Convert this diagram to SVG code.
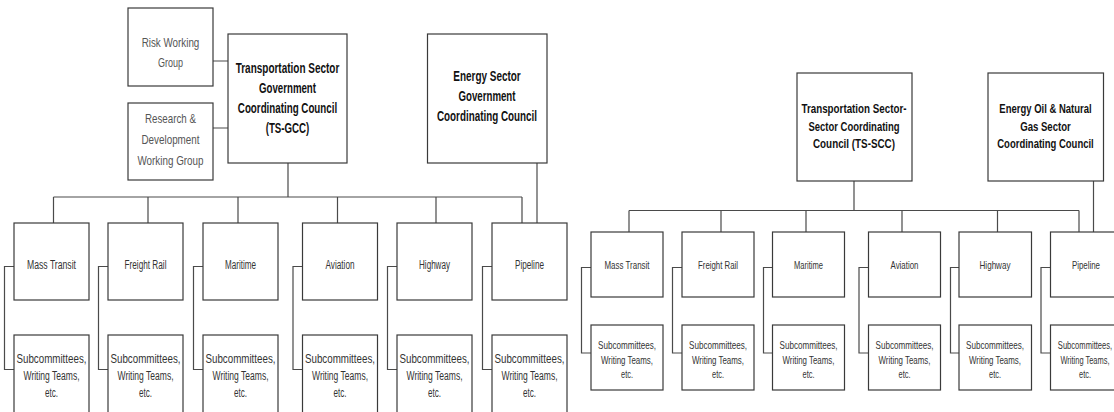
<svg xmlns="http://www.w3.org/2000/svg" width="1114" height="412" viewBox="0 0 1114 412">
<style>
.box{fill:#fff;stroke:#3a3a3a;stroke-width:1.2}
.conn{fill:none;stroke:#4a4a4a;stroke-width:1.2}
text{font-family:"Liberation Sans",Arial,sans-serif;text-anchor:middle;fill:#333}
.b{font-weight:bold;fill:#111}
.lt{font-size:14px}
.rt{font-size:12.5px}
.wg{font-size:13.5px;fill:#555}
.lg{font-size:12.5px}
.rg{font-size:11.5px}
</style>
<rect width="1114" height="412" fill="#fff"/>
<g id="connectors" class="conn">
<path d="M213,61H228M213,128H228"/>
<path d="M288,163V197M53.5,197H522M53.5,197V223M148,197V223M238,197V223M337.5,197V223M436,197V223M522,197V223"/>
<path d="M537,163V223"/>
<path d="M14,266.5H4.5V369.5H14M108,266.5H98.5V369.5H108M203,266.5H193.5V369.5H203M302.5,266.5H293V369.5H302.5M397,266.5H387.5V369.5H397M492,266.5H482.5V369.5H492"/>
<path d="M854,181V210.5M629,210.5H1079M629,210.5V232M721,210.5V232M806,210.5V232M902,210.5V232M997.5,210.5V232M1079,210.5V232"/>
<path d="M1093.5,181V232"/>
<path d="M591,267.5H581.5V353H591M682,267.5H672.5V353H682M772.5,267.5H763.5V353H772.5M868.5,267.5H859V353H868.5M959,267.5H950.5V353H959M1050.5,267.5H1041V353H1050.5"/>
</g>
<g id="risk-wg"><rect class="box" x="128" y="8" width="85" height="78"/>
<text class="wg" x="170.5" y="47" textLength="57.7" lengthAdjust="spacingAndGlyphs">Risk Working</text>
<text class="wg" x="170.5" y="67" textLength="25" lengthAdjust="spacingAndGlyphs">Group</text></g>
<g id="rd-wg"><rect class="box" x="128" y="103" width="85" height="77"/>
<text class="wg" x="170.5" y="123" textLength="51" lengthAdjust="spacingAndGlyphs">Research &amp;</text>
<text class="wg" x="170.5" y="144" textLength="58" lengthAdjust="spacingAndGlyphs">Development</text>
<text class="wg" x="170.5" y="165" textLength="66" lengthAdjust="spacingAndGlyphs">Working Group</text></g>
<g id="ts-gcc"><rect class="box" x="228" y="34" width="119" height="129"/>
<text class="b lt" x="287.5" y="73" textLength="103.6" lengthAdjust="spacingAndGlyphs">Transportation Sector</text>
<text class="b lt" x="287.5" y="93" textLength="57" lengthAdjust="spacingAndGlyphs">Government</text>
<text class="b lt" x="287.5" y="113" textLength="99.3" lengthAdjust="spacingAndGlyphs">Coordinating Council</text>
<text class="b lt" x="287.5" y="133" textLength="43.6" lengthAdjust="spacingAndGlyphs">(TS-GCC)</text></g>
<g id="es-gcc"><rect class="box" x="427.5" y="34" width="119.5" height="129"/>
<text class="b lt" x="487" y="81" textLength="67.5" lengthAdjust="spacingAndGlyphs">Energy Sector</text>
<text class="b lt" x="487" y="101" textLength="57" lengthAdjust="spacingAndGlyphs">Government</text>
<text class="b lt" x="487" y="121" textLength="100" lengthAdjust="spacingAndGlyphs">Coordinating Council</text></g>
<g id="l-mass"><rect class="box" x="14" y="223" width="75" height="77"/>
<text class="lg" x="51.5" y="268.5" textLength="49" lengthAdjust="spacingAndGlyphs">Mass Transit</text></g>
<g id="l-freight"><rect class="box" x="108" y="223" width="75" height="77"/>
<text class="lg" x="145.5" y="268.5" textLength="42" lengthAdjust="spacingAndGlyphs">Freight Rail</text></g>
<g id="l-maritime"><rect class="box" x="203" y="223" width="75" height="77"/>
<text class="lg" x="240.5" y="268.5" textLength="31" lengthAdjust="spacingAndGlyphs">Maritime</text></g>
<g id="l-aviation"><rect class="box" x="302.5" y="223" width="75" height="77"/>
<text class="lg" x="340" y="268.5" textLength="29" lengthAdjust="spacingAndGlyphs">Aviation</text></g>
<g id="l-highway"><rect class="box" x="397" y="223" width="75" height="77"/>
<text class="lg" x="434.5" y="268.5" textLength="31" lengthAdjust="spacingAndGlyphs">Highway</text></g>
<g id="l-pipeline"><rect class="box" x="492" y="223" width="75" height="77"/>
<text class="lg" x="529.5" y="268.5" textLength="29" lengthAdjust="spacingAndGlyphs">Pipeline</text></g>
<g id="l-sub-mass"><rect class="box" x="14" y="335" width="75" height="80"/>
<text class="lg" x="51.5" y="362.5" textLength="70" lengthAdjust="spacingAndGlyphs">Subcommittees,</text>
<text class="lg" x="51.5" y="379.5" textLength="56" lengthAdjust="spacingAndGlyphs">Writing Teams,</text>
<text class="lg" x="51.5" y="396.5" textLength="13" lengthAdjust="spacingAndGlyphs">etc.</text></g>
<g id="l-sub-freight"><rect class="box" x="108" y="335" width="75" height="80"/>
<text class="lg" x="145.5" y="362.5" textLength="70" lengthAdjust="spacingAndGlyphs">Subcommittees,</text>
<text class="lg" x="145.5" y="379.5" textLength="56" lengthAdjust="spacingAndGlyphs">Writing Teams,</text>
<text class="lg" x="145.5" y="396.5" textLength="13" lengthAdjust="spacingAndGlyphs">etc.</text></g>
<g id="l-sub-maritime"><rect class="box" x="203" y="335" width="75" height="80"/>
<text class="lg" x="240.5" y="362.5" textLength="70" lengthAdjust="spacingAndGlyphs">Subcommittees,</text>
<text class="lg" x="240.5" y="379.5" textLength="56" lengthAdjust="spacingAndGlyphs">Writing Teams,</text>
<text class="lg" x="240.5" y="396.5" textLength="13" lengthAdjust="spacingAndGlyphs">etc.</text></g>
<g id="l-sub-aviation"><rect class="box" x="302.5" y="335" width="75" height="80"/>
<text class="lg" x="340" y="362.5" textLength="70" lengthAdjust="spacingAndGlyphs">Subcommittees,</text>
<text class="lg" x="340" y="379.5" textLength="56" lengthAdjust="spacingAndGlyphs">Writing Teams,</text>
<text class="lg" x="340" y="396.5" textLength="13" lengthAdjust="spacingAndGlyphs">etc.</text></g>
<g id="l-sub-highway"><rect class="box" x="397" y="335" width="75" height="80"/>
<text class="lg" x="434.5" y="362.5" textLength="70" lengthAdjust="spacingAndGlyphs">Subcommittees,</text>
<text class="lg" x="434.5" y="379.5" textLength="56" lengthAdjust="spacingAndGlyphs">Writing Teams,</text>
<text class="lg" x="434.5" y="396.5" textLength="13" lengthAdjust="spacingAndGlyphs">etc.</text></g>
<g id="l-sub-pipeline"><rect class="box" x="492" y="335" width="75" height="80"/>
<text class="lg" x="529.5" y="362.5" textLength="70" lengthAdjust="spacingAndGlyphs">Subcommittees,</text>
<text class="lg" x="529.5" y="379.5" textLength="56" lengthAdjust="spacingAndGlyphs">Writing Teams,</text>
<text class="lg" x="529.5" y="396.5" textLength="13" lengthAdjust="spacingAndGlyphs">etc.</text></g>
<g id="ts-scc"><rect class="box" x="797" y="73" width="115" height="108"/>
<text class="b rt" x="854" y="113" textLength="105" lengthAdjust="spacingAndGlyphs">Transportation Sector-</text>
<text class="b rt" x="854" y="130.5" textLength="91" lengthAdjust="spacingAndGlyphs">Sector Coordinating</text>
<text class="b rt" x="854" y="148" textLength="82" lengthAdjust="spacingAndGlyphs">Council (TS-SCC)</text></g>
<g id="eong-scc"><rect class="box" x="988" y="73" width="115.5" height="108"/>
<text class="b rt" transform="translate(1045.5,113) scale(0.76,1)">Energy Oil &amp; Natural</text>
<text class="b rt" x="1045.5" y="130.5" textLength="50.6" lengthAdjust="spacingAndGlyphs">Gas Sector</text>
<text class="b rt" transform="translate(1045.5,148) scale(0.76,1)">Coordinating Council</text></g>
<g id="r-mass"><rect class="box" x="591" y="232" width="72" height="65"/>
<text class="rg" x="627" y="269" textLength="45" lengthAdjust="spacingAndGlyphs">Mass Transit</text></g>
<g id="r-freight"><rect class="box" x="682" y="232" width="72" height="65"/>
<text class="rg" x="718" y="269" textLength="40" lengthAdjust="spacingAndGlyphs">Freight Rail</text></g>
<g id="r-maritime"><rect class="box" x="772.5" y="232" width="72" height="65"/>
<text class="rg" x="808.5" y="269" textLength="29" lengthAdjust="spacingAndGlyphs">Maritime</text></g>
<g id="r-aviation"><rect class="box" x="868.5" y="232" width="72" height="65"/>
<text class="rg" x="904.5" y="269" textLength="28" lengthAdjust="spacingAndGlyphs">Aviation</text></g>
<g id="r-highway"><rect class="box" x="959" y="232" width="72.5" height="65"/>
<text class="rg" x="995" y="269" textLength="31" lengthAdjust="spacingAndGlyphs">Highway</text></g>
<g id="r-pipeline"><rect class="box" x="1050.5" y="232" width="72" height="65"/>
<text class="rg" x="1086" y="269" textLength="28" lengthAdjust="spacingAndGlyphs">Pipeline</text></g>
<g id="r-sub-mass"><rect class="box" x="591" y="325" width="72" height="65"/>
<text class="rg" x="627" y="349" textLength="58" lengthAdjust="spacingAndGlyphs">Subcommittees,</text>
<text class="rg" x="627" y="363.5" textLength="52" lengthAdjust="spacingAndGlyphs">Writing Teams,</text>
<text class="rg" x="627" y="377.5" textLength="12" lengthAdjust="spacingAndGlyphs">etc.</text></g>
<g id="r-sub-freight"><rect class="box" x="682" y="325" width="72" height="65"/>
<text class="rg" x="718" y="349" textLength="58" lengthAdjust="spacingAndGlyphs">Subcommittees,</text>
<text class="rg" x="718" y="363.5" textLength="52" lengthAdjust="spacingAndGlyphs">Writing Teams,</text>
<text class="rg" x="718" y="377.5" textLength="12" lengthAdjust="spacingAndGlyphs">etc.</text></g>
<g id="r-sub-maritime"><rect class="box" x="772.5" y="325" width="72" height="65"/>
<text class="rg" x="808.5" y="349" textLength="58" lengthAdjust="spacingAndGlyphs">Subcommittees,</text>
<text class="rg" x="808.5" y="363.5" textLength="52" lengthAdjust="spacingAndGlyphs">Writing Teams,</text>
<text class="rg" x="808.5" y="377.5" textLength="12" lengthAdjust="spacingAndGlyphs">etc.</text></g>
<g id="r-sub-aviation"><rect class="box" x="868.5" y="325" width="72" height="65"/>
<text class="rg" x="904.5" y="349" textLength="58" lengthAdjust="spacingAndGlyphs">Subcommittees,</text>
<text class="rg" x="904.5" y="363.5" textLength="52" lengthAdjust="spacingAndGlyphs">Writing Teams,</text>
<text class="rg" x="904.5" y="377.5" textLength="12" lengthAdjust="spacingAndGlyphs">etc.</text></g>
<g id="r-sub-highway"><rect class="box" x="959" y="325" width="72.5" height="65"/>
<text class="rg" x="995" y="349" textLength="58" lengthAdjust="spacingAndGlyphs">Subcommittees,</text>
<text class="rg" x="995" y="363.5" textLength="52" lengthAdjust="spacingAndGlyphs">Writing Teams,</text>
<text class="rg" x="995" y="377.5" textLength="12" lengthAdjust="spacingAndGlyphs">etc.</text></g>
<g id="r-sub-pipeline"><rect class="box" x="1050.5" y="325" width="72" height="65"/>
<text class="rg" transform="translate(1085,349) scale(0.66,1)">Subcommittees,</text>
<text class="rg" transform="translate(1085,363.5) scale(0.65,1)">Writing Teams,</text>
<text class="rg" x="1085" y="377.5" textLength="12" lengthAdjust="spacingAndGlyphs">etc.</text></g>
</svg>
